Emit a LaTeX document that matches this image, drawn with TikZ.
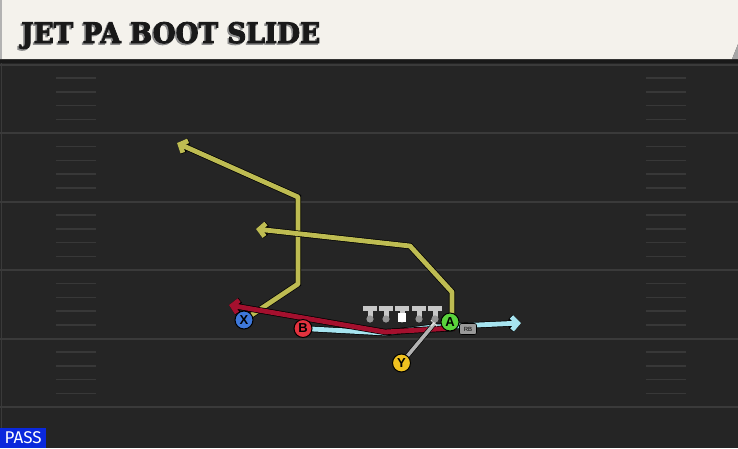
\documentclass[tikz,border=0pt]{standalone}
\usepackage{graphicx}
\usepackage{fontspec}
\newfontfamily\titlefont{DejaVu Serif}[BoldFeatures={FakeBold=3}]
\newfontfamily\labelfont{Liberation Sans}
\newfontfamily\passfont{Fira Sans}
\usetikzlibrary{arrows.meta}
\definecolor{fieldbg}{RGB}{37,37,37}
\definecolor{fieldline}{RGB}{58,58,58}
\definecolor{hashline}{RGB}{56,56,56}
\definecolor{headercream}{RGB}{244,242,236}
\definecolor{routeyellow}{RGB}{190,188,82}
\definecolor{routered}{RGB}{164,16,46}
\definecolor{routecyan}{RGB}{166,228,240}
\definecolor{motiongray}{RGB}{178,178,178}
\definecolor{xblue}{RGB}{62,120,218}
\definecolor{bred}{RGB}{226,50,62}
\definecolor{agreen}{RGB}{90,210,60}
\definecolor{yyellow}{RGB}{240,194,32}
\definecolor{passblue}{RGB}{10,40,220}
\begin{document}
\begin{tikzpicture}[x=1pt,y=-1pt,
	player/.style={circle,draw=black,line width=1pt,minimum size=18pt,inner sep=0pt,font=\labelfont\bfseries\fontsize{13}{13}\selectfont},
	route/.style={line width=4.8pt,line join=round,preaction={draw=black,line width=6.2pt}},
	routetip/.style={-{Straight Barb[length=6pt,width=13pt]}}]
	\useasboundingbox (0,0) rectangle (738,448);
	% field
	\fill[fieldbg] (0,0) rectangle (738,448);
	\fill[black!90] (0,58) rectangle (738,63);
	\foreach \l in {64.5,133,201.5,270,338.5,407}
		\draw[fieldline,line width=2pt] (0,\l)--(738,\l);
	\foreach \l in {64.5,133,201.5,270,338.5}
		\foreach \k in {1,2,3,4}{
			\draw[hashline,line width=1.5pt] (56,\l+13.7*\k)--(96,\l+13.7*\k);
			\draw[hashline,line width=1.5pt] (646,\l+13.7*\k)--(686,\l+13.7*\k);
		}
	\draw[fieldline,line width=1pt] (1,63)--(1,448);
	% header
	\fill[headercream] (0,0)--(738,0)--(738,44)--(732,59)--(0,59)--cycle;
	\fill[black!35] (732,59)--(738,44)--(738,59)--cycle;
	\fill[black!30] (0,0) rectangle (2,59);
	\node[anchor=base west,inner sep=0pt,text=black!45] at (19.5,44.5) {\resizebox{299pt}{21pt}{\titlefont\bfseries JET PA BOOT SLIDE}};
	\node[anchor=base west,inner sep=0pt,text=black!90] (title) at (21,43) {\resizebox{299pt}{21pt}{\titlefont\bfseries JET PA BOOT SLIDE}};
	% spots
	\coordinate (x) at (244,320);
	\coordinate (b) at (303,328.5);
	\coordinate (a) at (450,322);
	\coordinate (y) at (401.5,363);
	% route points
	\coordinate (x1) at (298,284);
	\coordinate (x2) at (298,197);
	\coordinate (xend) at (177,143);
	\coordinate (a0) at (452,316);
	\coordinate (a1) at (452,292);
	\coordinate (a2) at (410,246);
	\coordinate (aend) at (256,229);
	\coordinate (r0) at (455,328);
	\coordinate (r1) at (385,332);
	\coordinate (rend) at (229,305);
	\coordinate (c1) at (385,333);
	\coordinate (c2) at (433,327);
	\coordinate (cend) at (521,323);
	\coordinate (m1) at (434,324);
	% routes
	\draw[route,routeyellow,routetip] (x)--(x1)--(x2)--(xend);
	\draw[route,routeyellow,routetip] (a0)--(a1)--(a2)--(aend);
	\draw[route,routecyan,routetip] (b)--(c1)--(c2)--(cend);
	\draw[route,routered,routetip] (r0)--(r1)--(rend);
	\draw[motiongray,line width=3.6pt,preaction={draw=black,line width=4.8pt}] (y)--(m1);
	\draw[black!12,line width=1.4pt] (m1)++(-3,-4)--++(6,6) (m1)++(3,-4)--++(-6,6);
	% line
	\foreach \i/\xx in {1/370,2/386,3/402,4/419,5/435}{
		\coordinate (ol\i) at (\xx,306);
		\fill[black!22] ([xshift=-7]ol\i) rectangle ([xshift=7,yshift=-5]ol\i);
		\fill[black!22] ([xshift=-2.5]ol\i) rectangle ([xshift=2.5,yshift=-12]ol\i);
		\fill[black!42] ([yshift=-13]ol\i) circle (3.6);
	}
	\fill[white] ([xshift=-4,yshift=-7]ol3) rectangle ([xshift=4,yshift=-16]ol3);
	% players
	\node[player,fill=xblue] (X) at (x) {X};
	\node[player,fill=bred] (B) at (b) {B};
	\node[player,fill=agreen] (A) at (a) {A};
	\node[player,fill=yyellow] (Y) at (y) {Y};
	\node[draw=black,fill=black!40,rounded corners=2pt,line width=0.6pt,minimum width=17pt,minimum height=11pt,inner sep=0pt,font=\labelfont\fontsize{6}{6}\selectfont] (RB) at (468,329) {RB};
	% play type
	\node[fill=passblue,text=white,anchor=south west,minimum width=46pt,minimum height=20pt,inner sep=0pt,font=\passfont\fontsize{17}{17}\selectfont] (pass) at (0,448) {PASS};
\end{tikzpicture}
\end{document}
